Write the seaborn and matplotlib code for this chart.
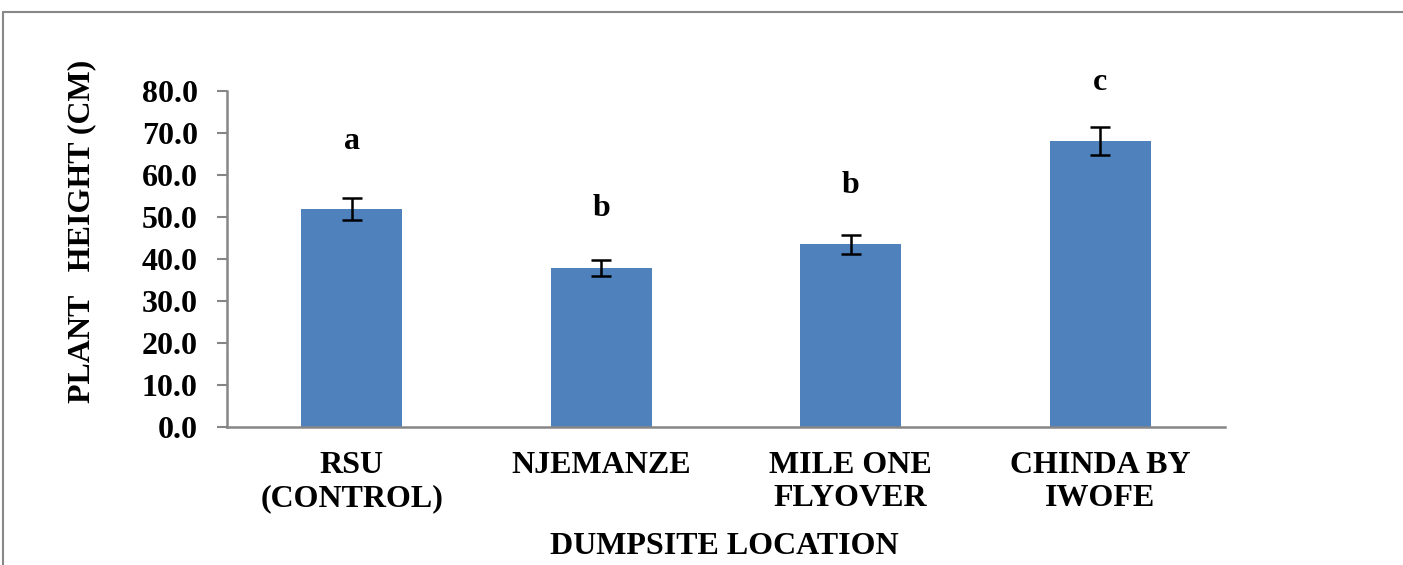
import matplotlib
matplotlib.use("Agg")
import matplotlib.pyplot as plt
import seaborn as sns
import pandas as pd
from matplotlib.lines import Line2D

categories = ["RSU\n(CONTROL)", "NJEMANZE", "MILE ONE\nFLYOVER", "CHINDA BY\nIWOFE"]
heights = [52.0, 37.9, 43.5, 68.1]
errors = [2.6, 1.9, 2.2, 3.4]
letters = ["a", "b", "b", "c"]
letter_y = [67.9, 52.1, 57.4, 82.1]
yticks = [0, 10, 20, 30, 40, 50, 60, 70, 80]

sns.set_theme(style="white")
plt.rcParams['font.family'] = ['Liberation Serif', 'DejaVu Serif']
plt.rcParams['font.weight'] = 'bold'
plt.rcParams['text.color'] = 'black'
plt.rcParams['xtick.labelcolor'] = 'black'
plt.rcParams['ytick.labelcolor'] = 'black'

W, H = 1403, 565
fig = plt.figure(figsize=(W / 100, H / 100), dpi=100)
ax = fig.add_axes([227 / W, 1 - 427 / H, (1225 - 227) / W, (427 - 91) / H])

df = pd.DataFrame({"loc": categories, "h": heights})
sns.barplot(data=df, x="loc", y="h", color="#4F81BD", saturation=1, width=0.405,
            errorbar=None, ax=ax)
for p in ax.patches:
    p.set_linewidth(0)

xs = list(range(len(categories)))
ax.errorbar(xs, heights, yerr=errors, fmt="none", ecolor="black", elinewidth=1.8,
            capsize=7, capthick=1.8, zorder=5)

for x, t, y in zip(xs, letters, letter_y):
    ax.text(x, y, t, ha="center", va="center", fontsize=23, fontweight="bold",
            color="black", clip_on=False)

ax.set_xlim(-0.5, len(categories) - 0.5)
ax.set_ylim(0, 80)
ax.set_yticks(yticks)
ax.set_yticklabels([f"{v:.1f}" for v in yticks], fontsize=23, fontweight="bold", color="black")
ax.set_xticks(xs)
ax.set_xticklabels(categories, fontsize=23, fontweight="bold", linespacing=1.22, color="black")
ax.set_xticks([i - 0.5 for i in range(len(categories) + 1)], minor=True)
ax.tick_params(axis="x", which="major", length=0, pad=17)
ax.tick_params(axis="x", which="minor", length=8, width=1.5, color="#868686", direction="out")
ax.tick_params(axis="y", which="major", length=7, width=1.5, color="#868686", direction="out", pad=14, left=True)
ax.set_xlabel("")
ax.set_ylabel("")
for s in ["top", "right"]:
    ax.spines[s].set_visible(False)
for s in ["left", "bottom"]:
    ax.spines[s].set_color("#868686")
    ax.spines[s].set_linewidth(1.8)
ax.grid(False)

fig.text(82 / W, 1 - 231 / H, "PLANT   HEIGHT (CM)", rotation=90, ha="center", va="center",
         fontsize=23, fontweight="bold", color="black")
fig.text(724 / W, 1 - 547 / H, "DUMPSITE LOCATION", ha="center", va="center",
         fontsize=23, fontweight="bold", color="black")

fig.add_artist(Line2D([3 / W, 1], [1 - 12 / H, 1 - 12 / H], color="#888888", lw=1.5,
                      transform=fig.transFigure))
fig.add_artist(Line2D([3 / W, 3 / W], [0, 1 - 12 / H], color="#888888", lw=1.5,
                      transform=fig.transFigure))

fig.savefig("out.png", dpi=100)
